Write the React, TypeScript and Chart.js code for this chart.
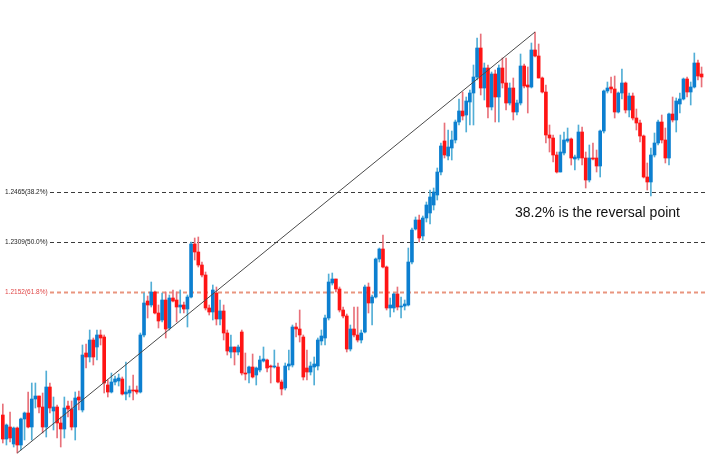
import React, { useEffect, useRef } from "react";
import { Chart, registerables } from "chart.js";

Chart.register(...registerables);

// Candle OHLC values (price), one entry per candle, left to right
const openP = [
  1.1792, 1.1720, 1.1756, 1.1705, 1.1753, 1.1702, 1.1780, 1.1798, 1.1756, 1.1840,
  1.1849, 1.1816, 1.1756, 1.1876, 1.1804, 1.1816, 1.1768, 1.1750, 1.1819, 1.1810,
  1.1756, 1.1846, 1.1807, 1.1978, 1.1966, 1.2017, 1.1996, 1.2032, 1.2026, 1.1882,
  1.1861, 1.1891, 1.1894, 1.1900, 1.1855, 1.1858, 1.1867, 1.1867, 1.1861, 1.2032,
  1.2134, 1.2122, 1.2161, 1.2098, 1.2077, 1.2137, 1.2053, 1.2143, 1.2137, 1.2116,
  1.2122, 1.2110, 1.2146, 1.2305, 1.2281, 1.2242, 1.2212, 1.2113, 1.2101, 1.2158,
  1.2080, 1.2104, 1.2038, 1.1981, 1.1996, 1.1981, 1.2041, 1.1918, 1.1918, 1.1936,
  1.1912, 1.1927, 1.1954, 1.1957, 1.1939, 1.1936, 1.1936, 1.1891, 1.1873, 1.1939,
  1.1942, 1.2056, 1.2050, 1.2026, 1.1933, 1.1921, 1.1936, 1.1939, 1.2014, 1.2023,
  1.2083, 1.2188, 1.2200, 1.2170, 1.2107, 1.2089, 1.1990, 1.2050, 1.2032, 1.2017,
  1.2041, 1.2176, 1.2128, 1.2146, 1.2260, 1.2290, 1.2236, 1.2113, 1.2113, 1.2155,
  1.2116, 1.2119, 1.2122, 1.2251, 1.2350, 1.2377, 1.2329, 1.2383, 1.2398, 1.2422,
  1.2452, 1.2521, 1.2614, 1.2569, 1.2593, 1.2617, 1.2671, 1.2704, 1.2692, 1.2731,
  1.2758, 1.2806, 1.2893, 1.2773, 1.2833, 1.2716, 1.2815, 1.2746, 1.2833, 1.2788,
  1.2728, 1.2773, 1.2701, 1.2728, 1.2839, 1.2782, 1.2776, 1.2887, 1.2869, 1.2803,
  1.2761, 1.2632, 1.2623, 1.2572, 1.2521, 1.2578, 1.2614, 1.2620, 1.2560, 1.2563,
  1.2641, 1.2563, 1.2497, 1.2563, 1.2563, 1.2539, 1.2644, 1.2764, 1.2776, 1.2770,
  1.2701, 1.2758, 1.2788, 1.2707, 1.2749, 1.2683, 1.2668, 1.2629, 1.2506, 1.2491,
  1.2572, 1.2608, 1.2671, 1.2617, 1.2563, 1.2695, 1.2677, 1.2725, 1.2740, 1.2800,
  1.2761, 1.2776, 1.2848, 1.2815,
];

const closeP = [
  1.1720, 1.1762, 1.1723, 1.1753, 1.1702, 1.1780, 1.1798, 1.1756, 1.1840, 1.1849,
  1.1816, 1.1756, 1.1876, 1.1813, 1.1816, 1.1768, 1.1750, 1.1813, 1.1810, 1.1756,
  1.1843, 1.1837, 1.1972, 1.1966, 1.2017, 1.1966, 1.2032, 1.2023, 1.1888, 1.1861,
  1.1891, 1.1900, 1.1903, 1.1855, 1.1861, 1.1867, 1.1864, 1.1861, 1.2032, 1.2128,
  1.2122, 1.2161, 1.2098, 1.2074, 1.2137, 1.2050, 1.2143, 1.2134, 1.2116, 1.2122,
  1.2110, 1.2146, 1.2305, 1.2281, 1.2242, 1.2212, 1.2113, 1.2101, 1.2167, 1.2080,
  1.2104, 1.2038, 1.1984, 1.1996, 1.1981, 1.1996, 1.1918, 1.1915, 1.1936, 1.1906,
  1.1933, 1.1957, 1.1960, 1.1933, 1.1936, 1.1939, 1.1891, 1.1870, 1.1939, 1.1945,
  1.2056, 1.2050, 1.2032, 1.1906, 1.1921, 1.1939, 1.1945, 1.2017, 1.2029, 1.2083,
  1.2191, 1.2200, 1.2170, 1.2107, 1.2089, 1.1990, 1.2050, 1.2032, 1.2017, 1.2038,
  1.2176, 1.2128, 1.2146, 1.2260, 1.2290, 1.2236, 1.2113, 1.2122, 1.2155, 1.2116,
  1.2119, 1.2125, 1.2251, 1.2347, 1.2377, 1.2323, 1.2383, 1.2422, 1.2446, 1.2461,
  1.2521, 1.2599, 1.2572, 1.2596, 1.2617, 1.2671, 1.2704, 1.2689, 1.2734, 1.2758,
  1.2806, 1.2893, 1.2773, 1.2833, 1.2716, 1.2815, 1.2746, 1.2833, 1.2788, 1.2728,
  1.2773, 1.2701, 1.2728, 1.2839, 1.2779, 1.2776, 1.2887, 1.2869, 1.2803, 1.2761,
  1.2632, 1.2623, 1.2572, 1.2521, 1.2581, 1.2617, 1.2620, 1.2563, 1.2566, 1.2641,
  1.2563, 1.2497, 1.2563, 1.2560, 1.2539, 1.2644, 1.2764, 1.2773, 1.2770, 1.2701,
  1.2758, 1.2788, 1.2707, 1.2749, 1.2683, 1.2668, 1.2629, 1.2506, 1.2491, 1.2572,
  1.2608, 1.2671, 1.2617, 1.2563, 1.2695, 1.2677, 1.2734, 1.2740, 1.2800, 1.2761,
  1.2776, 1.2848, 1.2809, 1.2806,
];

const highP = [
  1.1825, 1.1765, 1.1801, 1.1756, 1.1756, 1.1783, 1.1801, 1.1861, 1.1888, 1.1888,
  1.1849, 1.1858, 1.1924, 1.1888, 1.1846, 1.1822, 1.1786, 1.1846, 1.1834, 1.1834,
  1.1861, 1.1864, 1.2002, 1.2005, 1.2047, 1.2023, 1.2047, 1.2047, 1.2032, 1.1897,
  1.1918, 1.1909, 1.1915, 1.1906, 1.1951, 1.1879, 1.1912, 1.1879, 1.2038, 1.2158,
  1.2149, 1.2191, 1.2164, 1.2122, 1.2158, 1.2161, 1.2152, 1.2167, 1.2161, 1.2167,
  1.2131, 1.2152, 1.2311, 1.2323, 1.2326, 1.2251, 1.2221, 1.2122, 1.2182, 1.2176,
  1.2137, 1.2122, 1.2047, 1.2032, 1.1996, 1.2002, 1.2047, 1.1978, 1.1939, 1.1975,
  1.1936, 1.1969, 1.1996, 1.1960, 1.1942, 1.1987, 1.1948, 1.1897, 1.1948, 1.1987,
  1.2062, 1.2068, 1.2107, 1.2032, 1.1987, 1.1951, 1.1966, 1.2023, 1.2047, 1.2092,
  1.2215, 1.2218, 1.2200, 1.2176, 1.2116, 1.2095, 1.2062, 1.2116, 1.2116, 1.2047,
  1.2182, 1.2188, 1.2152, 1.2263, 1.2293, 1.2332, 1.2239, 1.2143, 1.2158, 1.2176,
  1.2146, 1.2137, 1.2293, 1.2353, 1.2386, 1.2392, 1.2389, 1.2431, 1.2467, 1.2473,
  1.2533, 1.2608, 1.2668, 1.2647, 1.2644, 1.2677, 1.2740, 1.2761, 1.2746, 1.2767,
  1.2842, 1.2923, 1.2935, 1.2848, 1.2842, 1.2821, 1.2827, 1.2842, 1.2863, 1.2863,
  1.2788, 1.2803, 1.2737, 1.2875, 1.2845, 1.2836, 1.2908, 1.2941, 1.2905, 1.2806,
  1.2782, 1.2662, 1.2632, 1.2581, 1.2632, 1.2641, 1.2653, 1.2623, 1.2572, 1.2662,
  1.2656, 1.2581, 1.2602, 1.2608, 1.2587, 1.2647, 1.2767, 1.2791, 1.2806, 1.2809,
  1.2761, 1.2830, 1.2791, 1.2758, 1.2758, 1.2710, 1.2677, 1.2632, 1.2548, 1.2593,
  1.2638, 1.2677, 1.2692, 1.2653, 1.2698, 1.2746, 1.2743, 1.2758, 1.2803, 1.2806,
  1.2791, 1.2878, 1.2857, 1.2836,
];

const lowP = [
  1.1708, 1.1702, 1.1711, 1.1696, 1.1678, 1.1687, 1.1717, 1.1753, 1.1717, 1.1813,
  1.1798, 1.1738, 1.1726, 1.1798, 1.1747, 1.1723, 1.1696, 1.1723, 1.1786, 1.1747,
  1.1717, 1.1807, 1.1801, 1.1933, 1.1951, 1.1942, 1.1957, 1.2002, 1.1858, 1.1846,
  1.1858, 1.1882, 1.1879, 1.1852, 1.1837, 1.1846, 1.1837, 1.1855, 1.1858, 1.2026,
  1.2083, 1.2116, 1.2095, 1.2053, 1.2071, 1.2023, 1.2047, 1.2131, 1.2071, 1.2098,
  1.2098, 1.2056, 1.2143, 1.2257, 1.2236, 1.2206, 1.2107, 1.2092, 1.2077, 1.2062,
  1.2062, 1.2017, 1.1972, 1.1963, 1.1942, 1.1972, 1.1912, 1.1897, 1.1888, 1.1903,
  1.1882, 1.1921, 1.1951, 1.1921, 1.1888, 1.1933, 1.1888, 1.1852, 1.1867, 1.1927,
  1.1936, 1.2026, 1.2011, 1.1897, 1.1897, 1.1912, 1.1882, 1.1927, 1.2002, 1.2002,
  1.2077, 1.2182, 1.2161, 1.2101, 1.2083, 1.1981, 1.1984, 1.2026, 1.2011, 1.2008,
  1.2038, 1.2098, 1.2062, 1.2143, 1.2251, 1.2233, 1.2107, 1.2086, 1.2101, 1.2107,
  1.2083, 1.2107, 1.2119, 1.2245, 1.2347, 1.2311, 1.2317, 1.2371, 1.2365, 1.2407,
  1.2437, 1.2512, 1.2563, 1.2557, 1.2557, 1.2608, 1.2662, 1.2677, 1.2641, 1.2662,
  1.2662, 1.2797, 1.2752, 1.2737, 1.2683, 1.2707, 1.2671, 1.2671, 1.2773, 1.2707,
  1.2722, 1.2677, 1.2692, 1.2722, 1.2773, 1.2698, 1.2773, 1.2866, 1.2803, 1.2758,
  1.2608, 1.2581, 1.2551, 1.2518, 1.2521, 1.2572, 1.2610, 1.2542, 1.2527, 1.2557,
  1.2542, 1.2473, 1.2491, 1.2557, 1.2521, 1.2506, 1.2638, 1.2758, 1.2758, 1.2683,
  1.2698, 1.2740, 1.2698, 1.2686, 1.2677, 1.2647, 1.2611, 1.2503, 1.2467, 1.2449,
  1.2566, 1.2602, 1.2608, 1.2548, 1.2542, 1.2671, 1.2641, 1.2698, 1.2737, 1.2746,
  1.2722, 1.2773, 1.2797, 1.2776,
];

// Fibonacci retracement levels and their labels
const fibLevels = [1.246, 1.231, 1.216];
const fibLabels = ["1.2465(38.2%)", "1.2309(50.0%)", "1.2152(61.8%)"];
const annotationText = "38.2% is the reversal point";

// trend line anchors (candle indices: swing low, swing high)
const trendFrom = 4;
const trendTo = 147;

const Y_MIN = 1.1663;
const Y_MAX = 1.3037;

export default function App() {
  const ref = useRef<HTMLCanvasElement | null>(null);

  useEffect(() => {
    if (!ref.current) return;
    const n = openP.length;
    const labels = Array.from({ length: n + 1 }, (_, i) => String(i));
    const bull = openP.map((o, i) => closeP[i] >= o);
    const bodies: any[] = openP.map((o, i) => [o, closeP[i]]);
    const wicks: any[] = lowP.map((l, i) => [l, highP[i]]);
    bodies.push(null);
    wicks.push(null);
    const bodyColors = bull.map((b) => (b ? "#0c7fd0" : "#ff1414"));
    const wickColors = bull.map((b) => (b ? "#52aed6" : "#e8717a"));
    const trend = labels.map((_, i) =>
      i === trendFrom ? lowP[i] : i === trendTo ? highP[i] : null
    );

    const fibColors = ["#3a3a3a", "#3a3a3a", "#e9957f"];
    const fibTextColors = ["#222222", "#222222", "#e04848"];

    const fibPlugin = {
      id: "fibPlugin",
      beforeDatasetsDraw(chart: any) {
        const { ctx, scales } = chart;
        const y = scales.y;
        fibLevels.forEach((v, k) => {
          const py = Math.round(y.getPixelForValue(v)) + 0.5;
          ctx.save();
          ctx.strokeStyle = fibColors[k];
          ctx.lineWidth = k === 2 ? 2 : 1;
          ctx.setLineDash(k === 2 ? [4, 3] : [4, 3]);
          ctx.beginPath();
          ctx.moveTo(50, py);
          ctx.lineTo(chart.width, py);
          ctx.stroke();
          ctx.setLineDash([]);
          ctx.fillStyle = fibTextColors[k];
          ctx.font = '6.5px "Liberation Sans", Arial, sans-serif';
          ctx.textAlign = "left";
          ctx.textBaseline = "alphabetic";
          ctx.fillText(fibLabels[k], 5, py + 1);
          ctx.restore();
        });
      },
      afterDatasetsDraw(chart: any) {
        const { ctx } = chart;
        ctx.save();
        ctx.fillStyle = "#111111";
        ctx.font = '14px "Liberation Sans", Arial, sans-serif';
        ctx.textAlign = "left";
        ctx.textBaseline = "alphabetic";
        ctx.fillText(annotationText, 515, 217);
        ctx.restore();
      },
    };

    const chart = new Chart(ref.current, {
      type: "bar",
      data: {
        labels,
        datasets: [
          {
            type: "line",
            data: trend as any,
            borderColor: "#4a4a4a",
            borderWidth: 1,
            pointRadius: 0,
            spanGaps: true,
            order: -1,
          } as any,
          {
            type: "bar",
            data: bodies,
            backgroundColor: bodyColors,
            borderWidth: 0,
            barThickness: 3,
            minBarLength: 1,
            grouped: false,
            order: 0,
          } as any,
          {
            type: "bar",
            data: wicks,
            backgroundColor: wickColors,
            borderWidth: 0,
            barThickness: 1,
            grouped: false,
            order: 1,
          } as any,
        ],
      },
      options: {
        animation: false,
        responsive: false,
        maintainAspectRatio: false,
        layout: { padding: { left: 1, right: 0, top: 0, bottom: 0 } },
        plugins: {
          legend: { display: false },
          tooltip: { enabled: false },
        },
        scales: {
          x: {
            type: "category",
            display: false,
            offset: true,
            grid: { display: false },
          },
          y: {
            display: false,
            min: Y_MIN,
            max: Y_MAX,
            grid: { display: false },
          },
        },
      },
      plugins: [fibPlugin],
    });

    return () => chart.destroy();
  }, []);

  return (
    <div
      style={{
        position: "absolute",
        left: 0,
        top: 0,
        width: 707,
        height: 458,
        background: "#ffffff",
      }}
    >
      <canvas ref={ref} width={707} height={458} style={{ display: "block" }} />
    </div>
  );
}
